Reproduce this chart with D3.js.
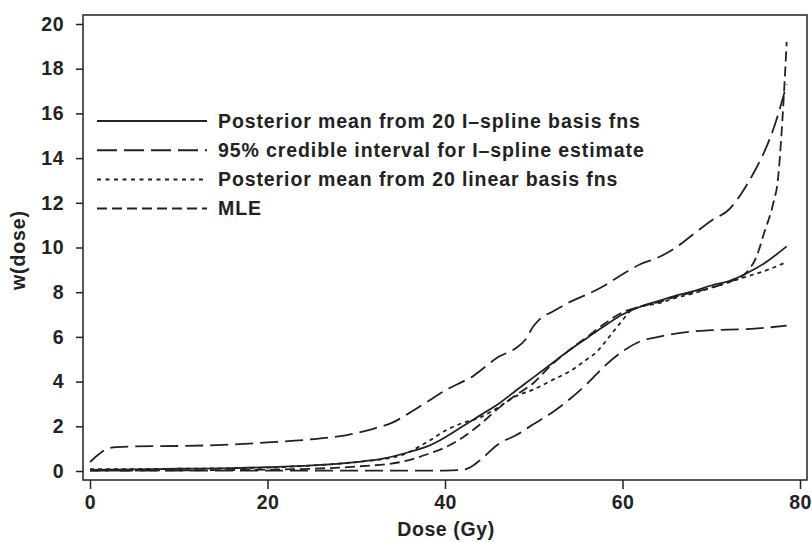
<!DOCTYPE html>
<html>
<head>
<meta charset="utf-8">
<script src="https://cdn.jsdelivr.net/npm/d3@7"></script>
<style>
  body { margin: 0; background: #fff; }
  text { font-family: "Liberation Sans", Arial, sans-serif; font-weight: bold; fill: #222; }
</style>
</head>
<body>
<script>
// doses and curve values
const isplineDose = [0, 5, 10, 15, 20, 25, 30, 33, 36, 38, 40, 42, 44, 46, 48, 50, 52, 54, 56, 58, 60, 62, 64, 66, 68, 70, 72, 74, 76, 78.5];
const isplineMean = [0.05, 0.07, 0.1, 0.12, 0.17, 0.25, 0.4, 0.55, 0.85, 1.1, 1.5, 2.0, 2.5, 3.0, 3.6, 4.2, 4.8, 5.4, 5.95, 6.5, 7.0, 7.35, 7.6, 7.85, 8.05, 8.3, 8.5, 8.85, 9.3, 10.05];

const upperDose = [0, 1, 2, 3, 5, 10, 15, 20, 25, 28, 30, 32, 34, 36, 38, 40, 42, 43, 44, 46, 48, 49, 50, 51, 52, 54, 56, 58, 60, 62, 64, 66, 68, 70, 72, 74, 75, 76, 77, 78.5];
const upperCI = [0.4, 0.75, 1.0, 1.07, 1.1, 1.12, 1.17, 1.28, 1.42, 1.55, 1.7, 1.9, 2.15, 2.6, 3.1, 3.6, 4.0, 4.2, 4.5, 5.1, 5.5, 5.85, 6.5, 6.9, 7.1, 7.55, 7.9, 8.3, 8.8, 9.25, 9.55, 10.0, 10.6, 11.2, 11.7, 12.8, 13.5, 14.3, 15.3, 17.3];

const lowerDose = [0, 10, 20, 30, 40, 42, 43, 44, 46, 48, 50, 52, 54, 56, 58, 60, 62, 64, 66, 68, 70, 74, 78.5];
const lowerCI = [0.02, 0.02, 0.02, 0.02, 0.02, 0.05, 0.2, 0.5, 1.2, 1.6, 2.1, 2.6, 3.2, 3.9, 4.7, 5.35, 5.8, 6.0, 6.15, 6.25, 6.3, 6.35, 6.5];

const linearDose = [0, 10, 20, 25, 30, 35, 38, 40, 42, 44, 46, 48, 50, 52, 54, 56, 57, 58, 59, 60, 61, 62, 64, 66, 68, 70, 72, 74, 76, 78.5];
const linearMean = [0.08, 0.1, 0.15, 0.25, 0.4, 0.7, 1.3, 1.8, 2.15, 2.4, 2.85, 3.35, 3.65, 4.05, 4.45, 5.0, 5.3, 5.75, 6.25, 6.75, 7.2, 7.35, 7.5, 7.75, 7.95, 8.2, 8.45, 8.7, 8.95, 9.35];

const mleDose = [0, 10, 20, 25, 30, 35, 38, 40, 42, 44, 46, 48, 50, 52, 54, 56, 58, 60, 62, 64, 66, 68, 70, 72, 74, 75, 76, 77, 77.5, 78, 78.5];
const mle = [0.02, 0.03, 0.06, 0.1, 0.2, 0.4, 0.75, 1.05, 1.5, 2.1, 2.8, 3.4, 3.95, 4.75, 5.4, 6.0, 6.6, 7.1, 7.35, 7.55, 7.8, 8.0, 8.2, 8.45, 8.9, 9.5, 10.7, 12.0, 13.0, 15.6, 19.2];

const xTicks = [0, 20, 40, 60, 80];
const yTicks = [0, 2, 4, 6, 8, 10, 12, 14, 16, 18, 20];

const legendLabels = [
  "Posterior mean from 20 I\u2013spline basis fns",
  "95% credible interval for I\u2013spline estimate",
  "Posterior mean from 20 linear basis fns",
  "MLE"
];

const width = 812, height = 542;
const frame = {left: 83, right: 807, top: 15, bottom: 480};

const svg = d3.select('body').append('svg')
  .attr('width', width)
  .attr('height', height);

const x = d3.scaleLinear().domain([0, 80]).range([90, 800]);
const y = d3.scaleLinear().domain([0, 20]).range([471, 24]);

// frame
svg.append('rect')
  .attr('x', frame.left).attr('y', frame.top)
  .attr('width', frame.right - frame.left)
  .attr('height', frame.bottom - frame.top)
  .attr('fill', 'none')
  .attr('stroke', '#222')
  .attr('stroke-width', 1.5);

// x axis ticks (outside, below frame)
const xAxis = svg.append('g').attr('transform', `translate(0,${frame.bottom})`);
xAxis.call(d3.axisBottom(x).tickValues(d3.range(0, 81, 2)).tickSize(5).tickFormat(''));
xAxis.call(d3.axisBottom(x).tickValues(xTicks).tickSize(9).tickFormat(d3.format('d')));
xAxis.selectAll('.domain').remove();
xAxis.selectAll('line').attr('stroke', '#222').attr('stroke-width', 1.5);
xAxis.selectAll('text')
  .attr('font-size', 19.5)
  .attr('letter-spacing', 0.5)
  .attr('dy', '0.85em')
  .attr('fill', '#222');

// y axis ticks (outside, left of frame)
const yAxis = svg.append('g').attr('transform', `translate(${frame.left},0)`);
yAxis.call(d3.axisLeft(y).tickValues(d3.range(0, 20.01, 0.4)).tickSize(4).tickFormat(''));
yAxis.call(d3.axisLeft(y).tickValues(yTicks).tickSize(7).tickPadding(12).tickFormat(d3.format('d')));
yAxis.selectAll('.domain').remove();
yAxis.selectAll('line').attr('stroke', '#222').attr('stroke-width', 1.5);
yAxis.selectAll('text')
  .attr('font-size', 19.5)
  .attr('letter-spacing', 0.5)
  .attr('fill', '#222');

// axis titles
svg.append('text')
  .attr('x', 446).attr('y', 536)
  .attr('text-anchor', 'middle')
  .attr('font-size', 19.5)
  .attr('letter-spacing', 0.6)
  .text('Dose (Gy)');

svg.append('text')
  .attr('transform', 'translate(25,250) rotate(-90)')
  .attr('text-anchor', 'middle')
  .attr('font-size', 19.5)
  .attr('letter-spacing', 0.9)
  .text('w(dose)');

const line = d3.line()
  .x(d => x(d[0]))
  .y(d => y(d[1]))
  .curve(d3.curveMonotoneX);

const series = [
  {dose: isplineDose, vals: isplineMean, dash: null},
  {dose: upperDose, vals: upperCI, dash: '18,7'},
  {dose: lowerDose, vals: lowerCI, dash: '18,7'},
  {dose: linearDose, vals: linearMean, dash: '4,4'},
  {dose: mleDose, vals: mle, dash: '10,5'}
];

svg.append('g')
  .selectAll('path')
  .data(series)
  .enter()
  .append('path')
  .attr('d', s => line(s.dose.map((d, i) => [d, s.vals[i]])))
  .attr('fill', 'none')
  .attr('stroke', '#222')
  .attr('stroke-width', 1.8)
  .attr('stroke-dasharray', s => s.dash);

// legend
const legendDash = [null, '20,7', '4,4.5', '10,5'];
const legend = svg.append('g')
  .selectAll('g')
  .data(legendLabels)
  .enter()
  .append('g')
  .attr('transform', (d, i) => `translate(97,${121 + i * 29.2})`);

legend.append('line')
  .attr('x1', 0).attr('x2', 110)
  .attr('stroke', '#222')
  .attr('stroke-width', 2)
  .attr('stroke-dasharray', (d, i) => legendDash[i]);

legend.append('text')
  .attr('x', 121).attr('y', 6.5)
  .attr('font-size', 19.5)
  .attr('letter-spacing', 0.9)
  .text(d => d);
</script>
</body>
</html>
